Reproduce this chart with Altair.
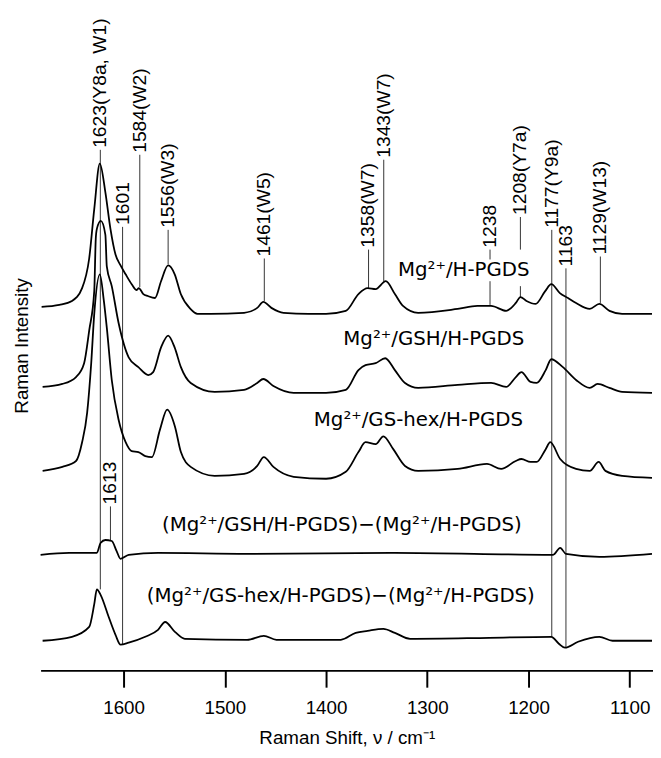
import altair as alt
import pandas as pd

# ---- spectra: wavenumber (cm-1) and intensity above each trace's own baseline ----
s1_wn = [1681, 1663.5, 1651, 1641, 1634, 1629, 1623.5, 1618, 1613, 1608, 1603, 1598, 1592, 1587, 1585,
         1580.5, 1576, 1569, 1563, 1556, 1549.5, 1543.5, 1534, 1527, 1514, 1481, 1468, 1462, 1454, 1442,
         1417, 1400, 1380.5, 1368, 1359, 1351, 1341, 1332, 1324, 1309, 1270, 1250.5, 1237, 1222, 1212.5,
         1208, 1202, 1193, 1183.5, 1177.5, 1169, 1161, 1153, 1139.5, 1130, 1120, 1107.5, 1078]
s1_int = [0, 2, 6, 19, 49, 99, 145, 116, 79, 53, 42, 33, 23, 17, 19,
          13, 11, 9, 26, 42, 33, 13, -2, -7, -7, -6, -1, 5, -1, -6,
          -7, -7, -4, 13, 19, 18, 26, 13, 1, -6, -2, 1, 1, -4, 4,
          10, 6, 3, 16, 23, 14, 9, 4, -2, 3, -4, -7, -7]

s2_wn = [1680, 1660.5, 1647, 1639, 1634, 1629, 1627.5, 1626.4, 1622.5, 1618, 1616.6, 1611.7, 1605, 1595,
         1585.4, 1575.6, 1570.8, 1563, 1556, 1549.6, 1543.4, 1533.7, 1510, 1481, 1468, 1462, 1452, 1432,
         1400, 1380.5, 1368, 1361, 1351, 1341.5, 1332, 1322, 1309, 1270, 1237, 1222, 1212.5, 1207, 1198,
         1192, 1183, 1177.5, 1166, 1153, 1139.5, 1131.7, 1120, 1107.5, 1078]
s2_int = [0, 3, 10, 24, 57, 97, 150, 160, 168, 154, 122, 102, 65, 30,
          20, 12, 15, 40, 52, 40, 20, 4, -5, -3, 4, 8, 1, -6,
          -6, -3, 17, 22, 24, 29, 17, 4, -1, 2, 4, 0, 10, 15, 5,
          4, 17, 28, 20, 7, -1, 3, -1, -5, -6]

s3_wn = [1680, 1660.5, 1647, 1641, 1636, 1632, 1629, 1623.5, 1619.5, 1616.6, 1611.7, 1605, 1598, 1592,
         1585.4, 1578.6, 1572, 1564, 1557, 1549.3, 1543.4, 1533.7, 1510, 1481, 1468, 1461.5, 1452, 1432,
         1400, 1380.5, 1368, 1361, 1351, 1343.4, 1333.6, 1322, 1309, 1270, 1241, 1227, 1212.6, 1207, 1198,
         1192, 1183, 1178.5, 1168.7, 1153, 1139.5, 1130.7, 1124, 1107.5, 1078]
s3_int = [0, 4, 10, 29, 59, 109, 159, 199, 172, 145, 92, 52, 29, 20,
          19, 15, 14, 42, 62, 45, 19, 4, -5, -3, 5, 14, 4, -6,
          -8, -1, 19, 29, 27, 35, 22, 5, 0, 2, 7, 2, 10, 12, 9,
          9, 22, 29, 12, 2, 0, 9, 0, -5, -7]

d1_wn = [1682, 1653.7, 1626.4, 1622.8, 1618, 1611.7, 1607, 1603, 1595, 1566, 1478, 1332, 1175.6, 1168.7,
         1163, 1130, 1078]
d1_int = [-1, 1, 1, 11, 14, 13, 3, -5, -1, 1, 0, 1, -1, 6,
          0, -3, 0]

d2_wn = [1680, 1651, 1634, 1629, 1626.4, 1622.5, 1614.7, 1608, 1603, 1595, 1578.6, 1566, 1559, 1549.3,
         1539.5, 1478, 1461.5, 1449, 1385.4, 1370.7, 1359, 1343.4, 1332, 1317, 1239, 1177.5, 1170, 1164,
         1151, 1130, 1117, 1078]
d2_int = [0, 4, 14, 37, 52, 46, 24, 6, -4, -2, 4, 11, 19, 9,
          2, 1, 5, 1, 1, 8, 10, 12, 8, 2, 3, 4, -3, -7,
          -1, 4, 0, 0]

series_names = ["Mg/H-PGDS", "Mg/GSH/H-PGDS", "Mg/GS-hex/H-PGDS", "diff GSH", "diff GS-hex"]
series_wn = [s1_wn, s2_wn, s3_wn, d1_wn, d2_wn]
series_int = [s1_int, s2_int, s3_int, d1_int, d2_int]
offsets = [368, 287, 202, 118, 30]

# ---- peak markers ----
peak_wn = [1623, 1613, 1601, 1584, 1556, 1461, 1358, 1343, 1238, 1208, 1177, 1163, 1129]
peak_label = ["1623(Y8a, W1)", "1613", "1601", "1584(W2)", "1556(W3)", "1461(W5)", "1358(W7)",
              "1343(W7)", "1238", "1208(Y7a)", "1177(Y9a)", "1163", "1129(W13)"]
peak_top = [527, 166, 449, 522, 446, 417, 426, 517, 426, 459, 446, 407, 419]

seg_wn = [1623, 1613, 1601, 1584, 1556, 1461, 1358, 1343, 1238, 1238, 1208, 1208, 1177, 1163, 1129]
seg_y1 = [527, 166, 449, 522, 446, 417, 426, 517, 426, 394, 459, 389, 446, 407, 419]
seg_y2 = [82, 132, 26, 388, 411, 374, 387, 394, 416, 370, 426, 378, 34, 23, 372]

# ---- trace labels ----
lab_text = ["Mg²⁺/H-PGDS", "Mg²⁺/GSH/H-PGDS", "Mg²⁺/GS-hex/H-PGDS",
            "(Mg²⁺/GSH/H-PGDS)−(Mg²⁺/H-PGDS)", "(Mg²⁺/GS-hex/H-PGDS)−(Mg²⁺/H-PGDS)"]
lab_wn = [1264, 1293.6, 1308.8, 1384.4, 1385.4]
lab_y = [399, 329, 247, 141, 69]

rows = []
for name, wn, it, off in zip(series_names, series_wn, series_int, offsets):
    for w, v in zip(wn, it):
        rows.append({"series": name, "wn": w, "I": v + off})
df = pd.DataFrame(rows)
df_peaks = pd.DataFrame({"wn": peak_wn, "label": peak_label, "top": peak_top})
df_seg = pd.DataFrame({"wn": seg_wn, "y1": seg_y1, "y2": seg_y2})
df_lab = pd.DataFrame({"wn": lab_wn, "y": lab_y, "text": lab_text})

FONT = "Liberation Sans"
x_scale = alt.Scale(domain=[1077, 1682], reverse=True, nice=False, zero=False)
y_scale = alt.Scale(domain=[0, 666], nice=False, zero=False)

x_axis = alt.Axis(values=[1100, 1200, 1300, 1400, 1500, 1600], format="d",
                  title="Raman Shift, ν / cm⁻¹", labelFont=FONT, labelFontSize=19,
                  labelColor="black", labelPadding=12, tickSize=17, tickWidth=2,
                  tickColor="black", domainColor="black", domainWidth=2, grid=False,
                  titleFont=FONT, titleFontSize=19, titleFontWeight="normal",
                  titleColor="black", titleY=74, titleBaseline="alphabetic")
y_axis = alt.Axis(title="Raman Intensity", domain=False, ticks=False, labels=False, grid=False,
                  titleFont=FONT, titleFontSize=19, titleFontWeight="normal", titleColor="black",
                  titleX=-13, titleY=337, titleAngle=270, titleAlign="center",
                  titleBaseline="alphabetic")

lines = alt.Chart(df).mark_line(color="black", strokeWidth=1.8, interpolate="monotone").encode(
    x=alt.X("wn:Q", scale=x_scale, axis=x_axis),
    y=alt.Y("I:Q", scale=y_scale, axis=y_axis),
    detail="series:N",
)

rules = alt.Chart(df_seg).mark_rule(color="#333333", strokeWidth=1).encode(
    x=alt.X("wn:Q", scale=x_scale),
    y=alt.Y("y1:Q", scale=y_scale),
    y2="y2:Q",
)

peak_text = alt.Chart(df_peaks).mark_text(
    angle=270, align="left", baseline="middle", dx=2, font=FONT, fontSize=19.5, color="black"
).encode(
    x=alt.X("wn:Q", scale=x_scale),
    y=alt.Y("top:Q", scale=y_scale),
    text="label:N",
)

trace_text = alt.Chart(df_lab).mark_text(
    align="center", baseline="alphabetic", font="DejaVu Sans", fontSize=20, color="black"
).encode(
    x=alt.X("wn:Q", scale=x_scale),
    y=alt.Y("y:Q", scale=y_scale),
    text="text:N",
)

chart = alt.layer(rules, lines, peak_text, trace_text).properties(
    width=620, height=666,
    autosize=alt.AutoSizeParams(type="none"),
    padding={"left": 33, "right": 0, "top": 0, "bottom": 76},
).configure_view(stroke=None)

chart.save("out.html", embed_options={"renderer": "svg", "actions": False})
